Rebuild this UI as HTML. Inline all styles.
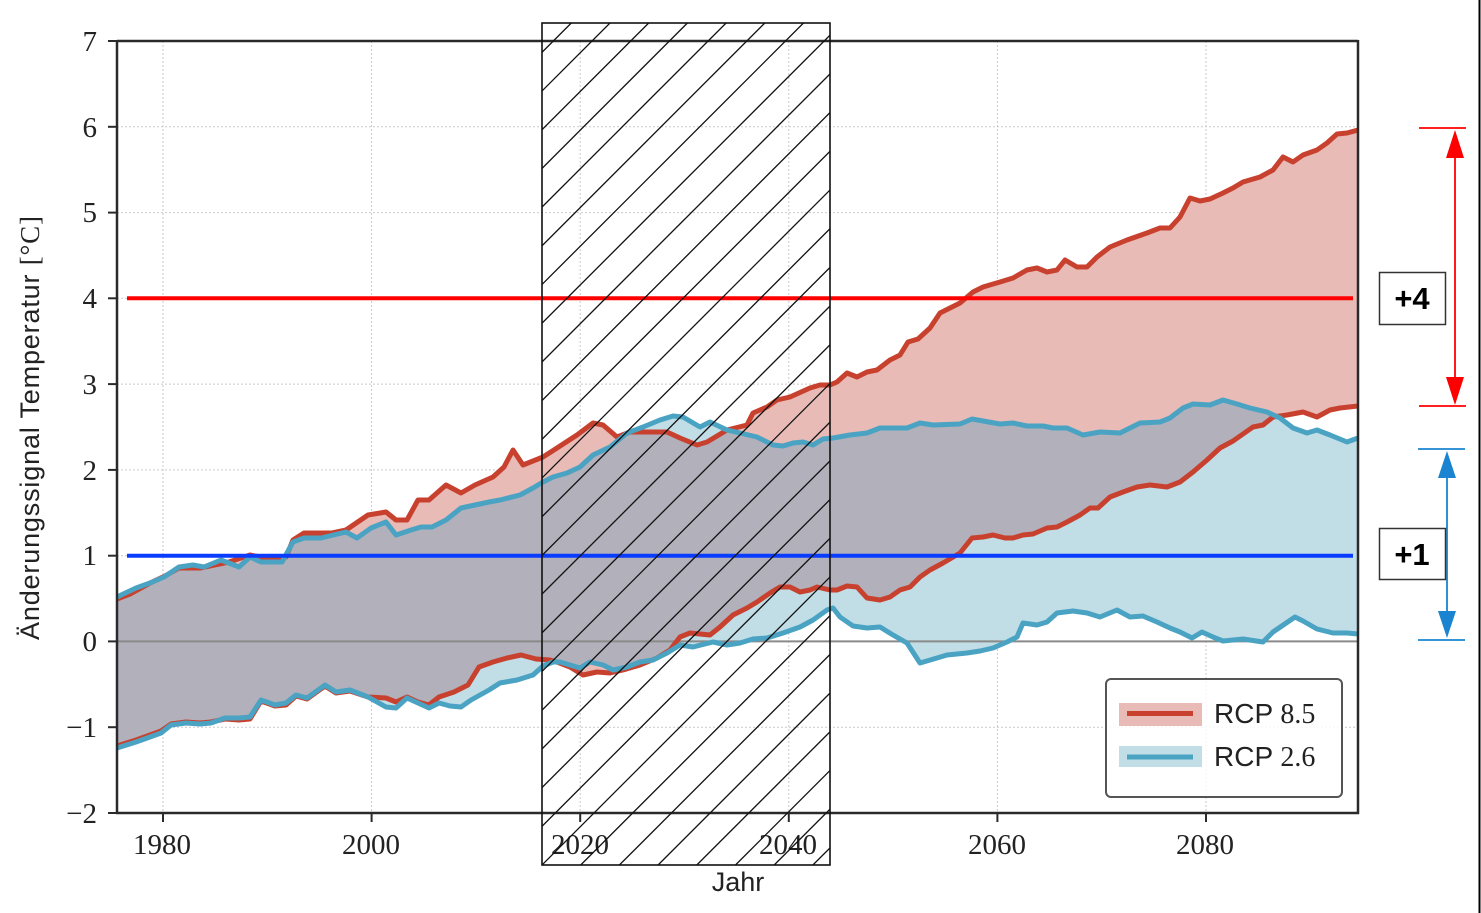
<!DOCTYPE html>
<html>
<head>
<meta charset="utf-8">
<style>
html,body{margin:0;padding:0;background:#fff;}
svg{display:block;}
</style>
</head>
<body>
<svg width="1481" height="913" viewBox="0 0 1481 913" xmlns="http://www.w3.org/2000/svg">
<defs>
<clipPath id="plot"><rect x="117" y="41" width="1241" height="772"/></clipPath>
<clipPath id="redclip"><polygon points="117,599 130,594 150,583 165,576 179,568 200,568 229,562 250,555 264,558 286,557 293,540 304,533 332,533 346,530 368,515 386,512 396,520 407,520 418,500 429,500 446,485 461,493 475,485 493,477 504,467 513,450 523,465 543,457 557,448 577,435 593,423 603,425 617,437 630,432 667,432 680,438 697,445 707,442 727,430 747,425 753,413 767,407 777,400 790,397 810,388 820,385 830,385 837,382 847,373 857,377 867,372 877,370 890,360 900,355 908,342 918,339 930,328 940,313 950,308 960,303 973,292 983,287 1000,282 1013,278 1027,270 1037,268 1047,272 1057,270 1065,260 1077,267 1087,267 1097,257 1110,247 1127,240 1147,233 1160,228 1170,228 1180,217 1190,198 1200,201 1210,199 1223,193 1233,188 1243,182 1260,177 1273,170 1283,157 1293,162 1303,155 1317,150 1327,143 1337,134 1347,133 1358,130 1358,406 1340,408 1330,410 1317,417 1303,412 1287,415 1273,417 1263,425 1253,427 1233,441 1220,448 1207,460 1193,472 1180,482 1167,487 1150,485 1137,487 1123,492 1110,497 1098,508 1090,508 1080,515 1067,522 1057,527 1047,528 1033,534 1023,535 1013,538 1005,538 993,535 983,537 972,538 960,553 943,563 930,570 920,577 910,587 900,590 890,597 880,600 867,598 857,587 847,586 837,590 830,590 817,587 810,590 800,592 790,587 780,587 770,593 757,602 747,608 733,615 720,627 710,635 690,633 680,637 670,650 657,658 640,665 623,670 610,673 597,672 583,675 570,667 557,662 550,660 536,659 521,655 507,658 493,662 479,667 468,685 454,692 439,697 429,705 418,702 407,697 396,702 386,698 368,697 350,691 336,693 325,686 307,699 296,696 286,705 275,706 261,701 250,719 239,720 225,719 211,722 200,723 186,722 171,724 161,731 150,735 136,740 117,746"/></clipPath>
<clipPath id="hatchclip"><rect x="542" y="23" width="288" height="842"/></clipPath>
</defs>

<rect x="0" y="0" width="1481" height="913" fill="#ffffff"/>

<!-- grid -->
<g stroke="#c9c9c9" stroke-width="1" stroke-dasharray="2,2">
<line x1="163" y1="41" x2="163" y2="813"/>
<line x1="371.6" y1="41" x2="371.6" y2="813"/>
<line x1="580.2" y1="41" x2="580.2" y2="813"/>
<line x1="788.8" y1="41" x2="788.8" y2="813"/>
<line x1="997.4" y1="41" x2="997.4" y2="813"/>
<line x1="1206" y1="41" x2="1206" y2="813"/>
<line x1="117" y1="126.8" x2="1358" y2="126.8"/>
<line x1="117" y1="212.6" x2="1358" y2="212.6"/>
<line x1="117" y1="298.3" x2="1358" y2="298.3"/>
<line x1="117" y1="384.1" x2="1358" y2="384.1"/>
<line x1="117" y1="469.9" x2="1358" y2="469.9"/>
<line x1="117" y1="555.7" x2="1358" y2="555.7"/>
<line x1="117" y1="727.2" x2="1358" y2="727.2"/>
</g>

<g clip-path="url(#plot)">
<!-- red fill -->
<polygon fill="#e8bbb7" points="117,599 130,594 150,583 165,576 179,568 200,568 229,562 250,555 264,558 286,557 293,540 304,533 332,533 346,530 368,515 386,512 396,520 407,520 418,500 429,500 446,485 461,493 475,485 493,477 504,467 513,450 523,465 543,457 557,448 577,435 593,423 603,425 617,437 630,432 667,432 680,438 697,445 707,442 727,430 747,425 753,413 767,407 777,400 790,397 810,388 820,385 830,385 837,382 847,373 857,377 867,372 877,370 890,360 900,355 908,342 918,339 930,328 940,313 950,308 960,303 973,292 983,287 1000,282 1013,278 1027,270 1037,268 1047,272 1057,270 1065,260 1077,267 1087,267 1097,257 1110,247 1127,240 1147,233 1160,228 1170,228 1180,217 1190,198 1200,201 1210,199 1223,193 1233,188 1243,182 1260,177 1273,170 1283,157 1293,162 1303,155 1317,150 1327,143 1337,134 1347,133 1358,130 1358,406 1340,408 1330,410 1317,417 1303,412 1287,415 1273,417 1263,425 1253,427 1233,441 1220,448 1207,460 1193,472 1180,482 1167,487 1150,485 1137,487 1123,492 1110,497 1098,508 1090,508 1080,515 1067,522 1057,527 1047,528 1033,534 1023,535 1013,538 1005,538 993,535 983,537 972,538 960,553 943,563 930,570 920,577 910,587 900,590 890,597 880,600 867,598 857,587 847,586 837,590 830,590 817,587 810,590 800,592 790,587 780,587 770,593 757,602 747,608 733,615 720,627 710,635 690,633 680,637 670,650 657,658 640,665 623,670 610,673 597,672 583,675 570,667 557,662 550,660 536,659 521,655 507,658 493,662 479,667 468,685 454,692 439,697 429,705 418,702 407,697 396,702 386,698 368,697 350,691 336,693 325,686 307,699 296,696 286,705 275,706 261,701 250,719 239,720 225,719 211,722 200,723 186,722 171,724 161,731 150,735 136,740 117,746"/>
<!-- blue fill -->
<polygon fill="#c1dde6" points="117,597 136,588 150,583 164,577 179,567 193,565 204,567 221,560 239,567 250,557 261,562 282,562 293,542 304,538 321,538 346,532 357,538 371,528 386,522 396,535 411,530 421,527 432,527 446,520 461,508 475,505 489,502 500,500 520,495 533,488 543,482 553,477 567,473 580,467 593,455 610,447 627,433 643,427 660,420 673,416 683,417 700,427 710,422 727,430 740,433 757,437 773,445 783,446 793,443 803,442 813,445 823,439 833,438 850,435 867,433 880,428 907,428 920,423 933,425 960,424 972,419 1000,424 1013,423 1027,426 1043,426 1053,428 1067,428 1083,435 1100,432 1120,433 1140,423 1160,422 1170,418 1183,408 1193,404 1210,405 1223,400 1237,404 1250,408 1267,412 1280,418 1293,428 1307,433 1317,430 1330,435 1347,442 1358,438 1358,634 1347,633 1333,633 1317,629 1303,621 1295,617 1273,632 1263,642 1243,639 1223,641 1213,637 1202,632 1192,638 1180,632 1170,628 1157,622 1143,616 1130,617 1117,610 1100,617 1087,613 1073,611 1057,613 1047,622 1037,625 1023,623 1017,637 1007,642 993,648 980,651 967,653 947,655 937,658 920,663 907,643 893,635 880,627 867,628 853,626 840,617 833,608 827,610 813,620 800,627 783,633 767,638 753,639 740,643 727,645 713,642 693,647 680,645 667,653 653,660 640,662 627,667 613,670 603,665 590,662 580,668 570,665 560,662 553,662 543,666 533,675 517,680 500,683 489,690 471,700 461,707 450,706 439,703 429,708 418,703 407,698 396,708 386,707 368,697 350,690 336,692 325,685 307,698 296,695 286,703 275,705 261,700 250,717 239,718 225,718 211,723 200,724 186,723 171,725 161,733 150,737 136,742 117,748"/>
<!-- overlap -->
<g clip-path="url(#redclip)">
<polygon fill="#b2b0bb" points="117,597 136,588 150,583 164,577 179,567 193,565 204,567 221,560 239,567 250,557 261,562 282,562 293,542 304,538 321,538 346,532 357,538 371,528 386,522 396,535 411,530 421,527 432,527 446,520 461,508 475,505 489,502 500,500 520,495 533,488 543,482 553,477 567,473 580,467 593,455 610,447 627,433 643,427 660,420 673,416 683,417 700,427 710,422 727,430 740,433 757,437 773,445 783,446 793,443 803,442 813,445 823,439 833,438 850,435 867,433 880,428 907,428 920,423 933,425 960,424 972,419 1000,424 1013,423 1027,426 1043,426 1053,428 1067,428 1083,435 1100,432 1120,433 1140,423 1160,422 1170,418 1183,408 1193,404 1210,405 1223,400 1237,404 1250,408 1267,412 1280,418 1293,428 1307,433 1317,430 1330,435 1347,442 1358,438 1358,634 1347,633 1333,633 1317,629 1303,621 1295,617 1273,632 1263,642 1243,639 1223,641 1213,637 1202,632 1192,638 1180,632 1170,628 1157,622 1143,616 1130,617 1117,610 1100,617 1087,613 1073,611 1057,613 1047,622 1037,625 1023,623 1017,637 1007,642 993,648 980,651 967,653 947,655 937,658 920,663 907,643 893,635 880,627 867,628 853,626 840,617 833,608 827,610 813,620 800,627 783,633 767,638 753,639 740,643 727,645 713,642 693,647 680,645 667,653 653,660 640,662 627,667 613,670 603,665 590,662 580,668 570,665 560,662 553,662 543,666 533,675 517,680 500,683 489,690 471,700 461,707 450,706 439,703 429,708 418,703 407,698 396,708 386,707 368,697 350,690 336,692 325,685 307,698 296,695 286,703 275,705 261,700 250,717 239,718 225,718 211,723 200,724 186,723 171,725 161,733 150,737 136,742 117,748"/>
</g>

<!-- zero line -->
<line x1="117" y1="641.4" x2="1358" y2="641.4" stroke="#8a8a8a" stroke-width="2"/>

<!-- red lines -->
<g fill="none" stroke="#c8412f" stroke-width="5" stroke-linejoin="round" stroke-linecap="round">
<polyline points="117,599 130,594 150,583 165,576 179,568 200,568 229,562 250,555 264,558 286,557 293,540 304,533 332,533 346,530 368,515 386,512 396,520 407,520 418,500 429,500 446,485 461,493 475,485 493,477 504,467 513,450 523,465 543,457 557,448 577,435 593,423 603,425 617,437 630,432 667,432 680,438 697,445 707,442 727,430 747,425 753,413 767,407 777,400 790,397 810,388 820,385 830,385 837,382 847,373 857,377 867,372 877,370 890,360 900,355 908,342 918,339 930,328 940,313 950,308 960,303 973,292 983,287 1000,282 1013,278 1027,270 1037,268 1047,272 1057,270 1065,260 1077,267 1087,267 1097,257 1110,247 1127,240 1147,233 1160,228 1170,228 1180,217 1190,198 1200,201 1210,199 1223,193 1233,188 1243,182 1260,177 1273,170 1283,157 1293,162 1303,155 1317,150 1327,143 1337,134 1347,133 1358,130"/>
<polyline points="117,746 136,740 150,735 161,731 171,724 186,722 200,723 211,722 225,719 239,720 250,719 261,701 275,706 286,705 296,696 307,699 325,686 336,693 350,691 368,697 386,698 396,702 407,697 418,702 429,705 439,697 454,692 468,685 479,667 493,662 507,658 521,655 536,659 550,660 557,662 570,667 583,675 597,672 610,673 623,670 640,665 657,658 670,650 680,637 690,633 710,635 720,627 733,615 747,608 757,602 770,593 780,587 790,587 800,592 810,590 817,587 830,590 837,590 847,586 857,587 867,598 880,600 890,597 900,590 910,587 920,577 930,570 943,563 960,553 972,538 983,537 993,535 1005,538 1013,538 1023,535 1033,534 1047,528 1057,527 1067,522 1080,515 1090,508 1098,508 1110,497 1123,492 1137,487 1150,485 1167,487 1180,482 1193,472 1207,460 1220,448 1233,441 1253,427 1263,425 1273,417 1287,415 1303,412 1317,417 1330,410 1340,408 1358,406"/>
</g>
<!-- blue lines -->
<g fill="none" stroke="#4aa3c2" stroke-width="5" stroke-linejoin="round" stroke-linecap="round">
<polyline points="117,597 136,588 150,583 164,577 179,567 193,565 204,567 221,560 239,567 250,557 261,562 282,562 293,542 304,538 321,538 346,532 357,538 371,528 386,522 396,535 411,530 421,527 432,527 446,520 461,508 475,505 489,502 500,500 520,495 533,488 543,482 553,477 567,473 580,467 593,455 610,447 627,433 643,427 660,420 673,416 683,417 700,427 710,422 727,430 740,433 757,437 773,445 783,446 793,443 803,442 813,445 823,439 833,438 850,435 867,433 880,428 907,428 920,423 933,425 960,424 972,419 1000,424 1013,423 1027,426 1043,426 1053,428 1067,428 1083,435 1100,432 1120,433 1140,423 1160,422 1170,418 1183,408 1193,404 1210,405 1223,400 1237,404 1250,408 1267,412 1280,418 1293,428 1307,433 1317,430 1330,435 1347,442 1358,438"/>
<polyline points="117,748 136,742 150,737 161,733 171,725 186,723 200,724 211,723 225,718 239,718 250,717 261,700 275,705 286,703 296,695 307,698 325,685 336,692 350,690 368,697 386,707 396,708 407,698 418,703 429,708 439,703 450,706 461,707 471,700 489,690 500,683 517,680 533,675 543,666 553,662 560,662 570,665 580,668 590,662 603,665 613,670 627,667 640,662 653,660 667,653 680,645 693,647 713,642 727,645 740,643 753,639 767,638 783,633 800,627 813,620 827,610 833,608 840,617 853,626 867,628 880,627 893,635 907,643 920,663 937,658 947,655 967,653 980,651 993,648 1007,642 1017,637 1023,623 1037,625 1047,622 1057,613 1073,611 1087,613 1100,617 1117,610 1130,617 1143,616 1157,622 1170,628 1180,632 1192,638 1202,632 1213,637 1223,641 1243,639 1263,642 1273,632 1295,617 1303,621 1317,629 1333,633 1347,633 1358,634"/>
</g>
</g>

<!-- threshold lines -->
<line x1="127" y1="298.3" x2="1353" y2="298.3" stroke="#ff0000" stroke-width="4"/>
<line x1="127" y1="555.7" x2="1353" y2="555.7" stroke="#0a3cff" stroke-width="4"/>

<!-- legend -->
<rect x="1106" y="679" width="236" height="118" rx="5" ry="5" fill="#ffffff" fill-opacity="0.85" stroke="#555" stroke-width="2"/>
<rect x="1119" y="703" width="83" height="23" fill="#e8bbb7"/>
<line x1="1127" y1="713.5" x2="1193" y2="713.5" stroke="#c8412f" stroke-width="5"/>
<rect x="1119" y="746" width="83" height="21" fill="#c1dde6"/>
<line x1="1127" y1="757" x2="1193" y2="757" stroke="#4aa3c2" stroke-width="5"/>
<text x="1214" y="723" font-family="Liberation Sans, sans-serif" font-size="28" fill="#222">RCP <tspan font-family="Liberation Serif, serif">8.5</tspan></text>
<text x="1214" y="766" font-family="Liberation Sans, sans-serif" font-size="28" fill="#222">RCP <tspan font-family="Liberation Serif, serif">2.6</tspan></text>

<!-- spines -->
<g stroke="#2a2a2a" stroke-width="2.5" fill="none">
<line x1="117" y1="41" x2="1358" y2="41"/>
<line x1="1358" y1="40" x2="1358" y2="814"/>
<line x1="117" y1="40" x2="117" y2="814"/>
<line x1="116" y1="813" x2="1359" y2="813"/>
</g>
<!-- ticks -->
<g stroke="#2a2a2a" stroke-width="2">
<line x1="108" y1="41" x2="117" y2="41"/>
<line x1="108" y1="126.8" x2="117" y2="126.8"/>
<line x1="108" y1="212.6" x2="117" y2="212.6"/>
<line x1="108" y1="298.3" x2="117" y2="298.3"/>
<line x1="108" y1="384.1" x2="117" y2="384.1"/>
<line x1="108" y1="469.9" x2="117" y2="469.9"/>
<line x1="108" y1="555.7" x2="117" y2="555.7"/>
<line x1="108" y1="641.4" x2="117" y2="641.4"/>
<line x1="108" y1="727.2" x2="117" y2="727.2"/>
<line x1="108" y1="813" x2="117" y2="813"/>
<line x1="163" y1="813" x2="163" y2="822"/>
<line x1="371.6" y1="813" x2="371.6" y2="822"/>
<line x1="580.2" y1="813" x2="580.2" y2="822"/>
<line x1="788.8" y1="813" x2="788.8" y2="822"/>
<line x1="997.4" y1="813" x2="997.4" y2="822"/>
<line x1="1206" y1="813" x2="1206" y2="822"/>
</g>

<!-- y tick labels -->
<g font-family="Liberation Serif, serif" font-size="29" fill="#222" text-anchor="end">
<text x="97" y="51">7</text>
<text x="97" y="137">6</text>
<text x="97" y="222">5</text>
<text x="97" y="308">4</text>
<text x="97" y="394">3</text>
<text x="97" y="480">2</text>
<text x="97" y="565">1</text>
<text x="97" y="651">0</text>
<text x="97" y="737">−1</text>
<text x="97" y="823">−2</text>
</g>
<!-- x tick labels -->
<g font-family="Liberation Serif, serif" font-size="29" fill="#222" text-anchor="middle">
<text x="162" y="854">1980</text>
<text x="371" y="854">2000</text>
<text x="580" y="854">2020</text>
<text x="788" y="854">2040</text>
<text x="997" y="854">2060</text>
<text x="1205" y="854">2080</text>
</g>

<!-- axis labels -->
<text x="738" y="891" font-family="Liberation Sans, sans-serif" font-size="27" fill="#222" text-anchor="middle">Jahr</text>
<text transform="translate(39,428) rotate(-90)" x="0" y="0" font-family="Liberation Sans, sans-serif" font-size="27" fill="#222" text-anchor="middle" textLength="424" lengthAdjust="spacing">Änderungssignal Temperatur <tspan font-family="Liberation Serif, serif">[°C]</tspan></text>

<!-- hatch box -->
<g clip-path="url(#hatchclip)" stroke="#111" stroke-width="1.3">
<line x1="542" y1="865" x2="1384" y2="23"/>
<line x1="503.3" y1="865" x2="1345.3" y2="23"/>
<line x1="464.6" y1="865" x2="1306.6" y2="23"/>
<line x1="425.9" y1="865" x2="1267.9" y2="23"/>
<line x1="387.2" y1="865" x2="1229.2" y2="23"/>
<line x1="348.5" y1="865" x2="1190.5" y2="23"/>
<line x1="309.8" y1="865" x2="1151.8" y2="23"/>
<line x1="271.1" y1="865" x2="1113.1" y2="23"/>
<line x1="232.4" y1="865" x2="1074.4" y2="23"/>
<line x1="193.7" y1="865" x2="1035.7" y2="23"/>
<line x1="155" y1="865" x2="997" y2="23"/>
<line x1="116.3" y1="865" x2="958.3" y2="23"/>
<line x1="77.6" y1="865" x2="919.6" y2="23"/>
<line x1="38.9" y1="865" x2="880.9" y2="23"/>
<line x1="0.2" y1="865" x2="842.2" y2="23"/>
<line x1="-38.5" y1="865" x2="803.5" y2="23"/>
<line x1="-77.2" y1="865" x2="764.8" y2="23"/>
<line x1="-115.9" y1="865" x2="726.1" y2="23"/>
<line x1="-154.6" y1="865" x2="687.4" y2="23"/>
<line x1="-193.3" y1="865" x2="648.7" y2="23"/>
<line x1="-232" y1="865" x2="610" y2="23"/>
<line x1="-270.7" y1="865" x2="571.3" y2="23"/>
<line x1="-309.4" y1="865" x2="532.6" y2="23"/>
<line x1="580.7" y1="865" x2="1422.7" y2="23"/>
<line x1="619.4" y1="865" x2="1461.4" y2="23"/>
<line x1="658.1" y1="865" x2="1500.1" y2="23"/>
<line x1="696.8" y1="865" x2="1538.8" y2="23"/>
<line x1="735.5" y1="865" x2="1577.5" y2="23"/>
<line x1="774.2" y1="865" x2="1616.2" y2="23"/>
<line x1="812.9" y1="865" x2="1654.9" y2="23"/>
</g>
<rect x="542" y="23" width="288" height="842" fill="none" stroke="#111" stroke-width="1.6"/>

<!-- right annotations: red -->
<g stroke="#ff0000" stroke-width="1.8">
<line x1="1419" y1="128" x2="1466" y2="128"/>
<line x1="1419" y1="406" x2="1466" y2="406"/>
<line x1="1455" y1="150" x2="1455" y2="385"/>
</g>
<polygon points="1455,130 1446,158 1464,158" fill="#ff0000"/>
<polygon points="1455,405 1446,377 1464,377" fill="#ff0000"/>
<!-- blue -->
<g stroke="#1a84d0" stroke-width="1.8">
<line x1="1418" y1="449" x2="1465" y2="449"/>
<line x1="1418" y1="640" x2="1465" y2="640"/>
<line x1="1447" y1="470" x2="1447" y2="620"/>
</g>
<polygon points="1447,451 1438,478 1456,478" fill="#1a84d0"/>
<polygon points="1447,638 1438,611 1456,611" fill="#1a84d0"/>

<rect x="1379.5" y="272.5" width="66" height="52" fill="#fff" stroke="#333" stroke-width="1.5"/>
<text x="1412" y="309" font-family="Liberation Sans, sans-serif" font-size="31" font-weight="bold" fill="#000" text-anchor="middle">+4</text>
<rect x="1379.5" y="528.5" width="66" height="51" fill="#fff" stroke="#333" stroke-width="1.5"/>
<text x="1412" y="565" font-family="Liberation Sans, sans-serif" font-size="31" font-weight="bold" fill="#000" text-anchor="middle">+1</text>

<!-- right image border -->
<line x1="1479.5" y1="0" x2="1479.5" y2="913" stroke="#000" stroke-width="2"/>
</svg>
</body>
</html>
